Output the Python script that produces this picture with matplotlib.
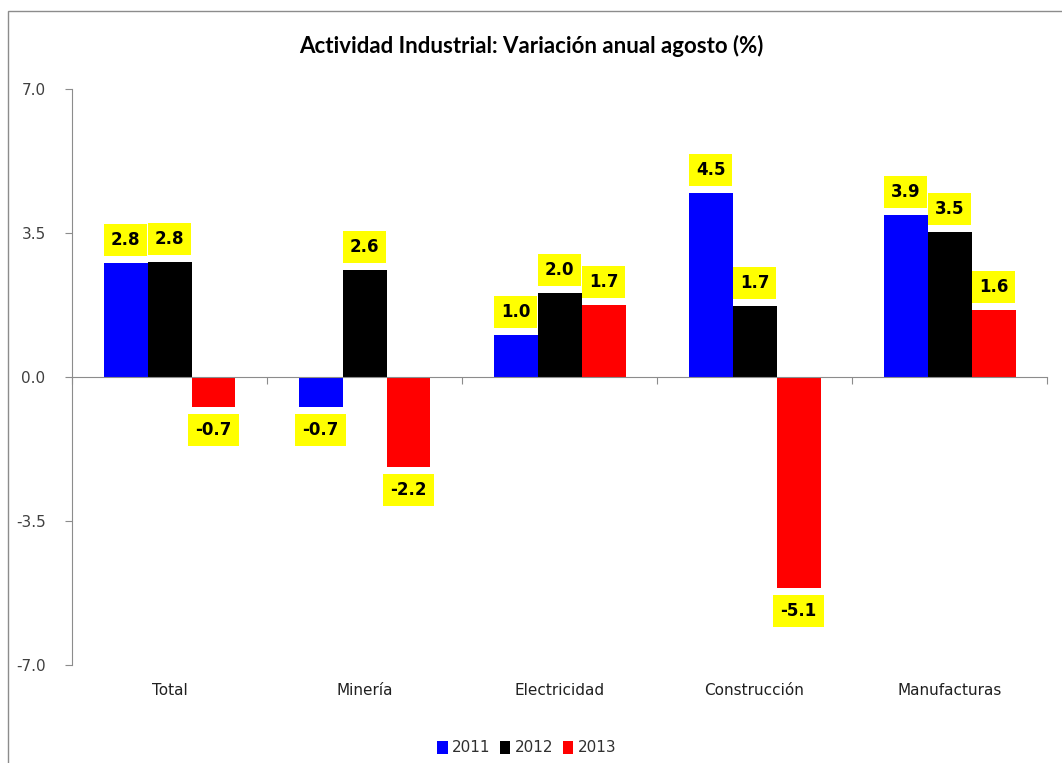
import matplotlib
matplotlib.use('Agg')
import matplotlib.pyplot as plt
from matplotlib.patches import Patch, Rectangle
import numpy as np

# Chart data
categories = ['Total', 'Minería', 'Electricidad', 'Construcción', 'Manufacturas']
years = ['2011', '2012', '2013']
v2011 = [2.77, -0.72, 1.02, 4.47, 3.93]
v2012 = [2.79, 2.60, 2.04, 1.72, 3.52]
v2013 = [-0.74, -2.19, 1.74, -5.12, 1.63]
colors = ['#0000FF', '#000000', '#FF0000']
yticks = [-7.0, -3.5, 0.0, 3.5, 7.0]

fig = plt.figure(figsize=(10.62, 7.63), dpi=100)
ax = fig.add_axes([0.0678, 0.1284, 0.9181, 0.755])

# outer chart border
fig.patches.append(Rectangle((8 / 1062, -0.01), 1.0, 1 - 11 / 763 + 0.01,
                             transform=fig.transFigure, fill=False,
                             edgecolor='#8c8c8c', linewidth=1.0))

x = np.arange(len(categories))
width = 0.2256
series = [v2011, v2012, v2013]
for i, (vals, col) in enumerate(zip(series, colors)):
    pos = x + (i - 1) * width
    ax.bar(pos, vals, width=width, color=col, linewidth=0, zorder=2)
    for px, v in zip(pos, vals):
        off = 16.5 if v >= 0 else -16.5
        ax.annotate(f'{v:.1f}', (px, v), xytext=(0, off), textcoords='offset points',
                    ha='center', va='center', fontsize=12, fontweight='bold',
                    color='black', family='DejaVu Sans',
                    bbox=dict(boxstyle='square,pad=0.42', fc='#FFFF00', ec='none'),
                    zorder=3)

ax.set_xlim(-0.5, len(categories) - 0.5)
ax.set_ylim(-7, 7)
ax.set_yticks(yticks)
ax.set_yticklabels([f'{t:.1f}' for t in yticks])
ax.tick_params(axis='y', direction='out', length=5, color='#8c8c8c',
               labelcolor='#404040', labelsize=11, pad=14)

# horizontal axis line at zero with boundary ticks
for s in ['top', 'right']:
    ax.spines[s].set_visible(False)
ax.spines['left'].set_color('#8c8c8c')
ax.spines['bottom'].set_position(('data', 0))
ax.spines['bottom'].set_color('#8c8c8c')
ax.set_xticks(np.arange(-0.5, len(categories), 1.0))
ax.set_xticklabels([])
ax.tick_params(axis='x', direction='out', length=5, color='#8c8c8c')

for xi, cat in zip(x, categories):
    ax.text(xi, -0.045, cat, transform=ax.get_xaxis_transform(),
            ha='center', va='center', fontsize=11, color='#202020', family='DejaVu Sans')

fig.text(0.5, 1 - 46 / 763, 'Actividad Industrial: Variación anual agosto (%)',
         ha='center', va='center', fontsize=16, fontweight='bold', family='Lato')

handles = [Patch(facecolor=c, edgecolor='none') for c in colors]
fig.legend(handles, years, loc='center', bbox_to_anchor=(0.496, 1 - 748 / 763), ncol=3,
           frameon=False, fontsize=11, handlelength=0.7, handleheight=0.9,
           handletextpad=0.3, columnspacing=0.6, labelcolor='#303030')

fig.savefig('out.png', dpi=100)
